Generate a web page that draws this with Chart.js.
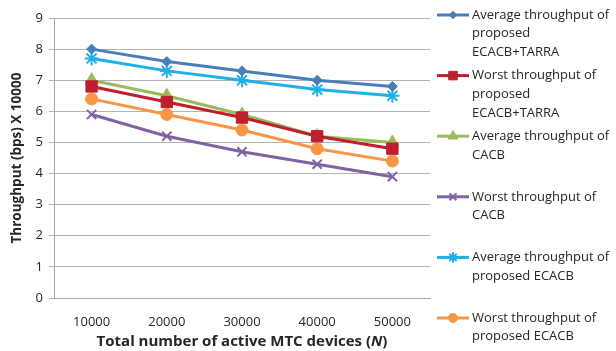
<!DOCTYPE html>
<html>
<head>
<meta charset="utf-8">
<script src="https://cdn.jsdelivr.net/npm/chart.js@4/dist/chart.umd.min.js"></script>
<style>
  html, body { margin: 0; padding: 0; background: #fff; }
  #wrap { width: 616px; height: 351px; position: relative; }
</style>
</head>
<body>
<div id="wrap"><canvas id="c" width="616" height="351"></canvas></div>
<script>
// Number of active MTC devices (x categories)
const devices = ['10000', '20000', '30000', '40000', '50000'];

// Throughput values, in units of 10000 bps
const avgEcacbTarra   = [8.0, 7.6, 7.3, 7.0, 6.8];
const worstEcacbTarra = [6.8, 6.3, 5.8, 5.2, 4.8];
const avgCacb         = [7.0, 6.5, 5.9, 5.2, 5.0];
const worstCacb       = [5.9, 5.2, 4.7, 4.3, 3.9];
const avgEcacb        = [7.7, 7.3, 7.0, 6.7, 6.5];
const worstEcacb      = [6.4, 5.9, 5.4, 4.8, 4.4];

// Legend text, already broken into lines
const legendLines = [
  ['Average throughput of', 'proposed', 'ECACB+TARRA'],
  ['Worst throughput of', 'proposed', 'ECACB+TARRA'],
  ['Average throughput of', 'CACB'],
  ['Worst throughput of', 'CACB'],
  ['Average throughput of', 'proposed ECACB'],
  ['Worst throughput of', 'proposed ECACB']
];

const yTicks = [0, 1, 2, 3, 4, 5, 6, 7, 8, 9];

const FONT = "'Open Sans', 'Liberation Sans', sans-serif";
const TEXT = '#262626';

function series(i, data, color, style, radius, bw) {
  return {
    label: legendLines[i].join(' '),
    data: data,
    borderColor: color,
    backgroundColor: color,
    borderWidth: 3,
    pointStyle: style,
    pointRadius: radius,
    pointHoverRadius: radius,
    pointBackgroundColor: color,
    pointBorderColor: color,
    pointBorderWidth: bw,
    tension: 0
  };
}

const datasets = [
  series(0, avgEcacbTarra,   '#4a7ebb', 'rectRot',  5,   1),
  series(1, worstEcacbTarra, '#be1e2d', 'rect',     8,   1),
  series(2, avgCacb,         '#9bbb59', 'triangle', 7.5, 1),
  series(3, worstCacb,       '#8064a2', 'crossRot', 6.5, 2),
  series(4, avgEcacb,        '#1fb0e6', 'star',     7,   2),
  series(5, worstEcacb,      '#f79646', 'circle',   6,   1)
];

// Draws the axis titles and the wrapped legend on the right
const decorations = {
  id: 'decorations',
  afterDraw(chart) {
    const ctx = chart.ctx;
    const area = chart.chartArea;
    ctx.save();
    ctx.fillStyle = TEXT;

    // y axis title
    ctx.save();
    ctx.translate(17, (area.top + area.bottom) / 2);
    ctx.rotate(-Math.PI / 2);
    ctx.font = "bold 13.5px " + FONT;
    ctx.textAlign = 'center';
    ctx.textBaseline = 'middle';
    ctx.fillText('Throughput (bps) X 10000', 0, 0);
    ctx.restore();

    // x axis title, with an italic N
    const parts = [
      ['Total number of active MTC devices (', 'bold 15px ' + FONT],
      ['N', 'italic bold 15px ' + FONT],
      [')', 'bold 15px ' + FONT]
    ];
    let total = 0;
    parts.forEach(p => { ctx.font = p[1]; total += ctx.measureText(p[0]).width; });
    let x = (area.left + area.right) / 2 - total / 2;
    ctx.textAlign = 'left';
    ctx.textBaseline = 'middle';
    parts.forEach(p => {
      ctx.font = p[1];
      ctx.fillText(p[0], x, 342);
      x += ctx.measureText(p[0]).width;
    });

    // legend
    const lx0 = 437, lx1 = 469, tx = 472;
    chart.data.datasets.forEach((ds, i) => {
      const y = 15 + i * 60.6;
      ctx.strokeStyle = ds.borderColor;
      ctx.lineWidth = ds.borderWidth;
      ctx.beginPath();
      ctx.moveTo(lx0, y);
      ctx.lineTo(lx1, y);
      ctx.stroke();
      ctx.fillStyle = ds.pointBackgroundColor;
      ctx.strokeStyle = ds.pointBorderColor;
      ctx.lineWidth = ds.pointBorderWidth;
      Chart.helpers.drawPoint(ctx, {
        pointStyle: ds.pointStyle,
        radius: ds.pointRadius * 0.75,
        rotation: 0,
        borderWidth: ds.pointBorderWidth
      }, (lx0 + lx1) / 2, y);
      ctx.fillStyle = TEXT;
      ctx.font = '13px ' + FONT;
      ctx.textAlign = 'left';
      ctx.textBaseline = 'middle';
      legendLines[i].forEach((line, k) => {
        ctx.fillText(line, tx, y + k * 18.7);
      });
    });
    ctx.restore();
  }
};

new Chart(document.getElementById('c'), {
  type: 'line',
  data: { labels: devices, datasets: datasets },
  options: {
    responsive: false,
    animation: false,
    events: [],
    layout: { padding: { top: 18, right: 186, left: 0, bottom: 0 } },
    plugins: { legend: { display: false }, tooltip: { enabled: false } },
    scales: {
      x: {
        offset: true,
        grid: { display: false },
        border: { display: true, color: '#a6a6a6', width: 1 },
        ticks: { color: TEXT, font: { family: FONT, size: 13 }, padding: 8, maxRotation: 0 },
        afterFit(scale) { scale.height = 53; }
      },
      y: {
        min: 0,
        max: 9,
        afterBuildTicks(scale) { scale.ticks = yTicks.map(v => ({ value: v })); },
        grid: { color: '#b3b3b3', lineWidth: 1, tickLength: 5, drawTicks: true },
        border: { display: true, color: '#a6a6a6', width: 1 },
        ticks: { color: TEXT, font: { family: FONT, size: 13 }, padding: 6 },
        afterFit(scale) { scale.width = 54; }
      }
    }
  },
  plugins: [decorations]
});
</script>
</body>
</html>
